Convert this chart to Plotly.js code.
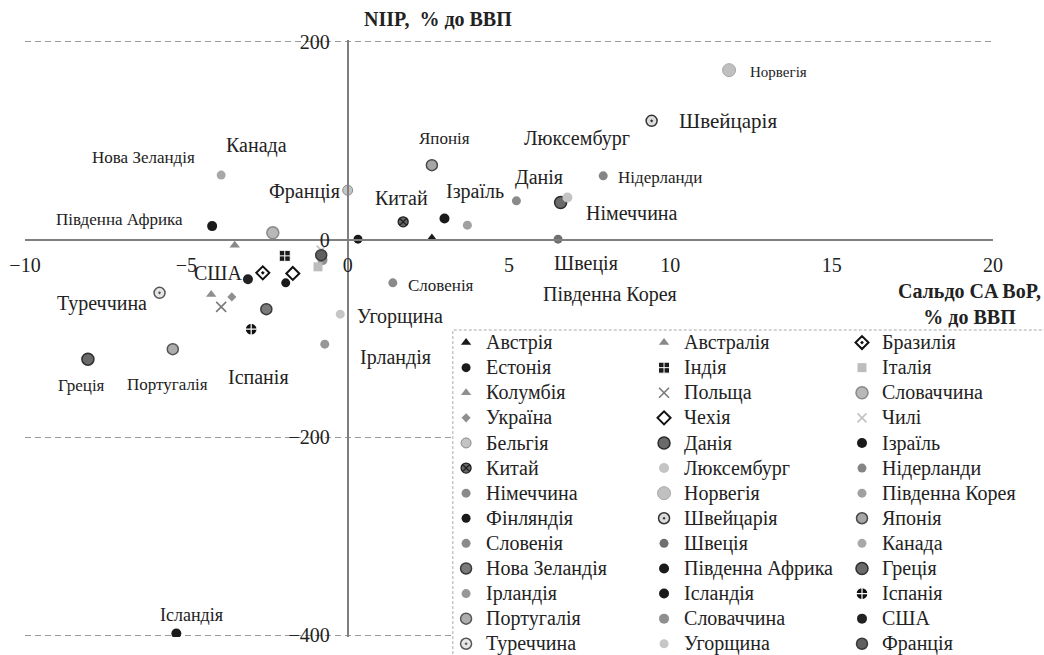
<!DOCTYPE html>
<html>
<head>
<meta charset="utf-8">
<script src="https://cdn.plot.ly/plotly-3.0.1.min.js"></script>
<style>html,body{margin:0;padding:0;background:#fff;}#chart{width:1044px;height:655px;}</style>
</head>
<body>
<div id="chart"></div>
<script>
// ---- DATA (legend columns 1, 2, 3) ----
const countries = [
  'Австрія','Естонія','Колумбія','Україна','Бельгія','Китай','Німеччина','Фінляндія','Словенія','Нова Зеландія','Ірландія','Португалія','Туреччина',
  'Австралія','Індія','Польща','Чехія','Данія','Люксембург','Норвегія','Швейцарія','Швеція','Південна Африка','Ісландія','Словаччина','Угорщина',
  'Бразилія','Італія','Словаччина','Чилі','Ізраїль','Нідерланди','Південна Корея','Японія','Канада','Греція','Іспанія','США','Франція'
];
// Сальдо поточного рахунку, % до ВВП
const caBalance = [
  2.61, -1.92, -4.23, -3.59, 0.0, 1.72, 5.23, 0.32, 1.4, -2.52, -0.71, -5.42, -5.83,
  -3.5, -1.95, -3.92, -1.7, 6.6, 6.81, 11.82, 9.42, 6.52, -4.2, -5.31, -0.78, -0.23,
  -2.63, -0.92, -2.32, -0.82, 3.0, 7.92, 3.71, 2.61, -3.92, -8.05, -2.99, -3.09, -0.82
];
// NIIP, % до ВВП
const niip = [
  1.8, -43.7, -55.5, -57.9, 50, 18, 39.3, 0.5, -43.7, -70.3, -105.7, -110.8, -53.8,
  -5.6, -16.4, -68, -34.2, 37.6, 42.7, 171.5, 120.2, 0.5, 13.7, -398.5, -20.7, -75.4,
  -33.6, -27.5, 6.9, -10.6, 21.4, 64.6, 14.7, 75.4, 65.3, -120.9, -90.6, -40, -15.7
];
const xTickVals = [-10, -5, 0, 5, 10, 15, 20];
const yTickVals = [-400, -200, 0, 200];

// ---- STYLES ----
const legendCol = [];
for (let i = 0; i < countries.length; i++) legendCol.push(i < 13 ? 'legend' : (i < 26 ? 'legend2' : 'legend3'));
// [symbol, fill, size, lineColor, lineWidth]
const markerStyle = [
  ['triangle-up','#1a1a1a',9,null,0],
  ['circle','#1a1a1a',9,null,0],
  ['triangle-up','#8f8f8f',9,null,0],
  ['diamond','#8f8f8f',7,null,0],
  ['circle','#c4c4c4',10,'#8a8a8a',1],
  ['circle-x','#666666',10,'#1e1e1e',1.3],
  ['circle','#8a8a8a',9,null,0],
  ['circle','#1a1a1a',9,null,0],
  ['circle','#8a8a8a',9,null,0],
  ['circle','#7a7a7a',11,'#3a3a3a',1.5],
  ['circle','#979797',9,null,0],
  ['circle','#adadad',11,'#555555',1.5],
  ['circle-dot','#e6e6e6',11,'#555555',1.5],

  ['triangle-up','#888888',9,null,0],
  ['square-cross','#1a1a1a',11,'#ffffff',1],
  ['x-thin-open','#7a7a7a',10,null,1.6],
  ['diamond-open','#111111',10,null,2],
  ['circle','#6a6a6a',12,'#2a2a2a',1.5],
  ['circle','#c4c4c4',10,null,0],
  ['circle','#c0c0c0',13,'#a8a8a8',1],
  ['circle-dot','#dcdcdc',11,'#333333',1.5],
  ['circle','#6f6f6f',9,null,0],
  ['circle','#1a1a1a',10,null,0],
  ['circle','#1a1a1a',10,null,0],
  ['circle','#8f8f8f',10,null,0],
  ['circle','#c6c6c6',9,null,0],

  ['diamond-open-dot','#111111',10,null,2],
  ['square','#bdbdbd',9,null,0],
  ['circle','#b8b8b8',12,'#8a8a8a',1.5],
  ['x-thin-open','#c2c2c2',9,null,1.6],
  ['circle','#1a1a1a',10,null,0],
  ['circle','#858585',9,null,0],
  ['circle','#a0a0a0',9,null,0],
  ['circle','#a6a6a6',11,'#4a4a4a',1.5],
  ['circle','#a8a8a8',9,null,0],
  ['circle','#6a6a6a',12,'#2e2e2e',1.5],
  ['circle-cross','#111111',12,'#ffffff',1.2],
  ['circle','#222222',10,null,0],
  ['circle','#606060',11,'#3a3a3a',1.5]
];

// Point labels: text, x, y (data coords), font size
const labelText = ['Нова Зеландія','Канада','Франція','Південна Африка','Японія','Люксембург','Швейцарія','Норвегія','Нідерланди','Данія','Ізраїль','Китай','Німеччина','Швеція','Південна Корея','Словенія','США','Туреччина','Угорщина','Ірландія','Іспанія','Португалія','Греція','Ісландія'];
const labelX = [-6.32,-2.82,-1.33,-7.07,3.01,7.1,11.8,13.36,9.67,5.92,3.94,1.67,8.8,7.38,8.12,2.88,-4.0,-7.62,1.61,1.49,-2.76,-5.58,-8.24,-4.83];
const labelY = [83.5,95.6,49.1,20.7,102.7,102.7,120,169.5,63.2,63.2,49.1,42,26.8,-23.8,-55.1,-46,-33.9,-64.3,-77.4,-118.9,-139.1,-146.2,-147.2,-380];
const labelSize = [17,20,20,17,17,20,21,15,17,20,20,20,20,20,20,17,20,20,20,20,20,17,17,18];

const FONT = 'Liberation Serif, Times New Roman, serif';

const traces = countries.map((name, i) => {
  const s = markerStyle[i];
  const m = {symbol: s[0], color: s[1], size: s[2], line: {width: s[4]}};
  if (s[3]) m.line.color = s[3];
  return {
    type: 'scatter', mode: 'markers',
    name: '<span style="font-size:20px">' + name + '</span>',
    x: [caBalance[i]], y: [niip[i]],
    marker: m, legend: legendCol[i], hoverinfo: 'name'
  };
});

const annotations = labelText.map((t, i) => ({
  x: labelX[i], y: labelY[i], xref: 'x', yref: 'y', text: t, showarrow: false,
  xanchor: 'center', yanchor: 'middle', font: {family: FONT, size: labelSize[i], color: '#222'}
}));
annotations.push({xref:'paper', yref:'paper', x: 0.348, y: 1.0, xanchor:'left', yanchor:'bottom', yshift: 8,
  text: '<b>NIIP,  % до ВВП</b>', showarrow:false, font:{family: FONT, size: 20, color:'#222'}});
annotations.push({xref:'paper', yref:'paper', x: 1.052, y: 0.5578, xanchor:'right', yanchor:'middle', align:'center',
  text: '<b>Сальдо CA BoP,</b><br><b>% до ВВП</b>', showarrow:false, font:{family: FONT, size: 20, color:'#222'}});

const legendBase = {
  orientation: 'v', yanchor: 'top', xanchor: 'left', bgcolor: 'rgba(0,0,0,0)', borderwidth: 0,
  font: {family: FONT, size: 17, color: '#222'}, y: 0.5226
};

// white gaps in the dashed gridlines behind the y tick labels
const shapes = yTickVals.filter(v => v !== 0).map(v => ({
  type: 'rect', xref: 'paper', yref: 'y', x0: (296-25)/968, x1: (336-25)/968, y0: v - 8, y1: v + 8,
  line: {width: 0}, fillcolor: '#ffffff', layer: 'between'
}));
shapes.push({
  type: 'rect', xref: 'paper', yref: 'paper', x0: 0.442, x1: 1.2, y0: -0.2, y1: (637-330)/597,
  line: {color: '#a8a8a8', width: 1, dash: '3px,2px'}, fillcolor: '#ffffff', layer: 'above'
});

const layout = {
  width: 1044, height: 655,
  margin: {l: 25, r: 51, t: 40, b: 18, autoexpand: false},
  paper_bgcolor: '#fff', plot_bgcolor: '#fff',
  font: {family: FONT, color: '#222'},
  showlegend: true,
  xaxis: {
    range: [-10, 20], tickvals: xTickVals, ticks: '', showgrid: false, zeroline: false,
    showline: true, linecolor: '#7f7f7f', linewidth: 2,
    anchor: 'free', position: 402/604, ticklabelstandoff: 7,
    tickfont: {family: FONT, size: 20, color: '#222'}
  },
  yaxis: {
    range: [-402, 202], tickvals: yTickVals, ticks: '', showgrid: true, griddash: '6px,4px',
    gridcolor: '#9a9a9a', gridwidth: 1, zeroline: false,
    showline: true, linecolor: '#7f7f7f', linewidth: 2,
    anchor: 'free', position: 1/3, ticklabelstandoff: 13,
    tickfont: {family: FONT, size: 20, color: '#222'}
  },
  legend: Object.assign({}, legendBase, {x: 0.435}),
  legend2: Object.assign({}, legendBase, {x: 0.6395}),
  legend3: Object.assign({}, legendBase, {x: 0.844}),
  shapes: shapes,
  annotations: annotations
};

Plotly.newPlot('chart', traces, layout, {displayModeBar: false, staticPlot: true});
</script>
</body>
</html>
